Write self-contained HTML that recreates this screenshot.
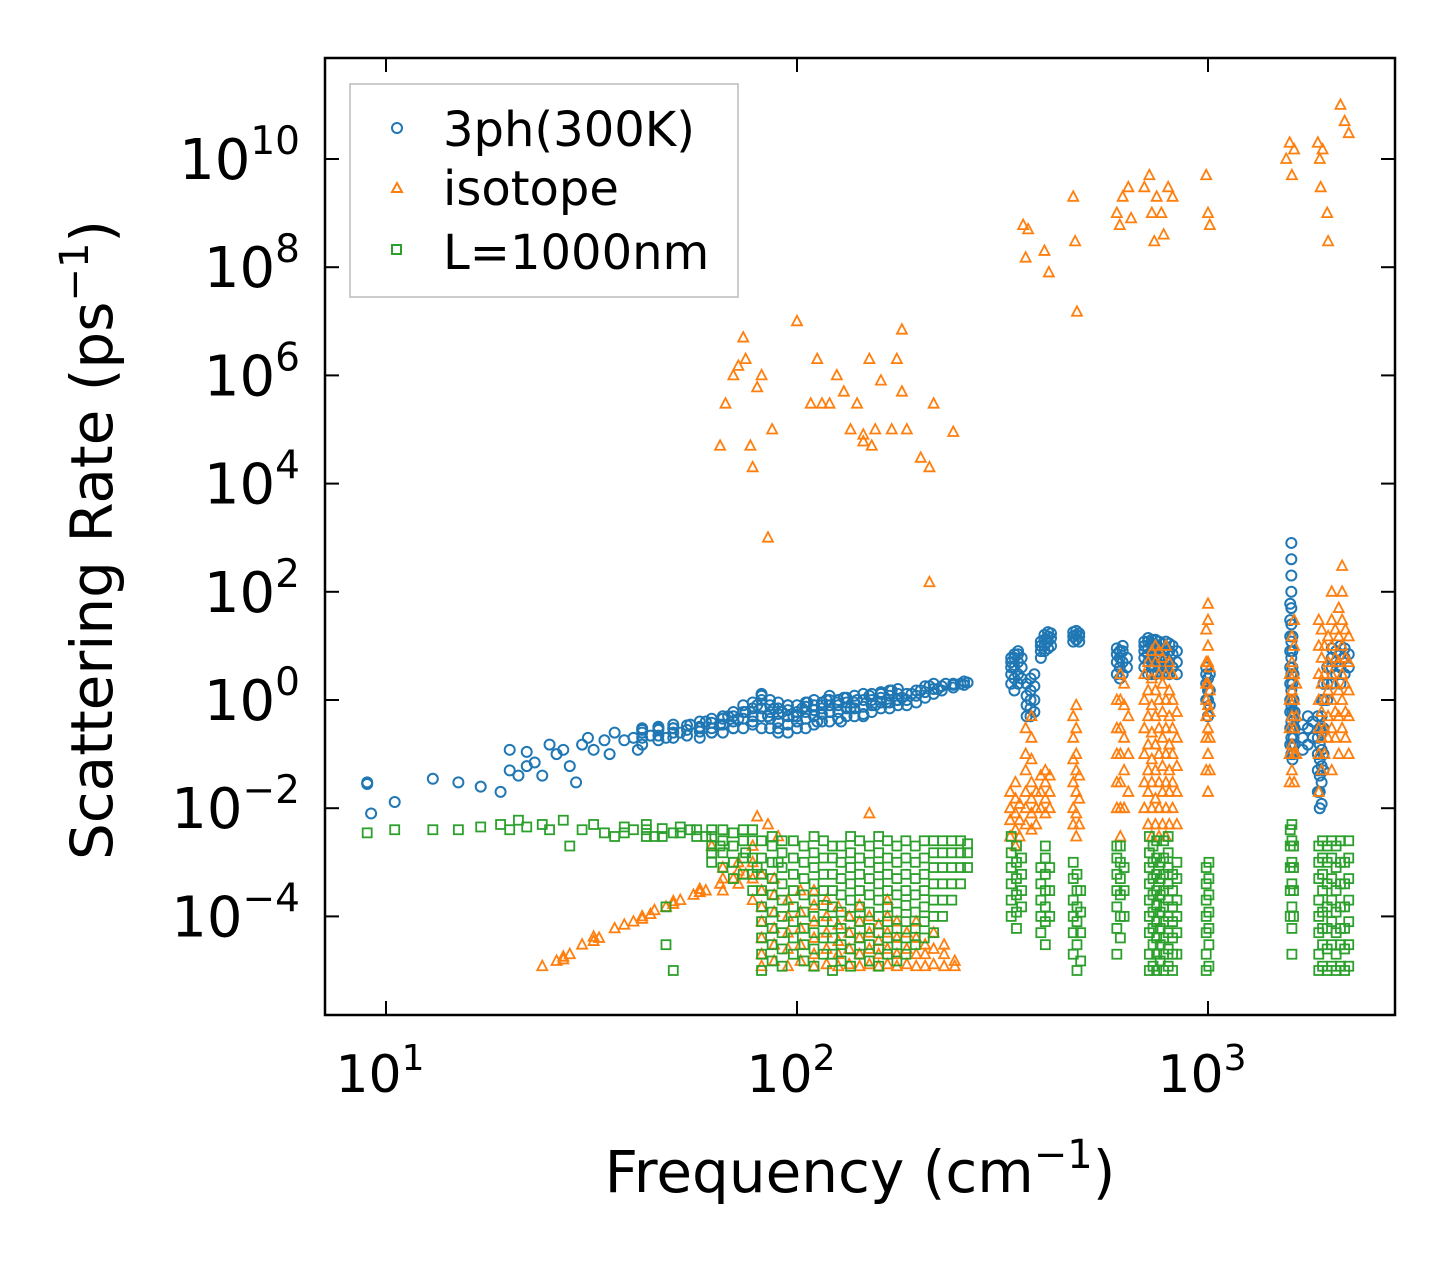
<!DOCTYPE html>
<html><head><meta charset="utf-8"><style>
html,body{margin:0;padding:0;background:#fff}
svg{display:block;font-family:"DejaVu Sans","Liberation Sans",sans-serif}
</style></head><body>
<svg id="chart" width="1455" height="1265" viewBox="0 0 1455 1265" xmlns="http://www.w3.org/2000/svg">
<rect x="0" y="0" width="1455" height="1265" fill="#fff"/>
<g id="marks"></g>
<rect x="325" y="58" width="1070" height="957" fill="none" stroke="#000" stroke-width="2.5"/>
<g id="axes"></g>
<text x="860" y="1192" font-size="58" text-anchor="middle">Frequency (cm<tspan font-size="40" dy="-24">−1</tspan><tspan dy="24">)</tspan></text>
<text transform="translate(112,540) rotate(-90)" font-size="58" text-anchor="middle">Scattering Rate (ps<tspan font-size="40" dy="-24">−1</tspan><tspan dy="24">)</tspan></text>
<g>
<rect x="350" y="84" width="388" height="213" fill="#fff" fill-opacity="0.8" stroke="#bbb" stroke-width="1.5"/>
<circle cx="397" cy="128" r="5" fill="none" stroke="#1f77b4" stroke-width="2"/>
<text x="443" y="146" font-size="48">3ph(300K)</text>
<polygon points="397,183 402,192 392,192" fill="none" stroke="#ff7f0e" stroke-width="2"/>
<text x="443" y="205" font-size="48">isotope</text>
<rect x="392" y="245" width="9" height="9" fill="none" stroke="#2ca02c" stroke-width="2"/>
<text x="443" y="269" font-size="48">L=1000nm</text>
</g>
</svg>
<script>
const xTicks=[10,100,1000];
const xTickExp=["1","2","3"];
const yTickExp=[-4,-2,0,2,4,6,8,10];

const freq3ph=[9,9,9.2,10.5,13,15,17,19,20,20,21,22,22,23,24,25,26,27,28,29,30,31,32,34,35,36,38,40,41,42,44,46,48,50,52,55,58,60,62,65,68,70,72,75,78,80,82,85,88,90,92,95,98,100,103,106,110,112,115,118,120,125,128,130,135,140,145,150,155,160,165,170,175,180,190,200,210,220,230,240,250,260];
const rate3ph=[0.03,0.028,0.008,0.013,0.035,0.03,0.025,0.02,0.12,0.05,0.04,0.06,0.11,0.07,0.04,0.15,0.1,0.12,0.06,0.03,0.15,0.2,0.12,0.18,0.1,0.25,0.18,0.2,0.12,0.28,0.22,0.3,0.2,0.3,0.25,0.35,0.3,0.4,0.25,0.35,0.5,0.3,0.45,0.6,0.4,0.8,1.2,0.5,0.7,0.3,0.6,0.8,0.5,0.4,0.7,0.9,0.5,0.4,0.8,1.0,0.6,0.9,0.4,1.1,0.7,1.0,0.5,1.2,0.8,1.3,0.9,1.5,1.0,1.1,1.3,1.5,1.8,1.6,2.0,1.9,2.0,2.1];
const clusters3ph=[
 [42,[0.15,0.2,0.25,0.3]],[46,[0.18,0.22,0.28,0.32]],[50,[0.2,0.25,0.3,0.35]],[54,[0.22,0.28,0.34]],[58,[0.2,0.26,0.32,0.4]],
 [62,[0.25,0.3,0.38,0.45]],[66,[0.25,0.35,0.45,0.5]],[70,[0.3,0.4,0.5,0.6]],[74,[0.3,0.45,0.6,0.8]],[78,[0.35,0.5,0.7,0.9]],
 [82,[0.3,0.5,0.7,1.0,1.3]],[86,[0.3,0.45,0.6,0.8,1.0]],[90,[0.25,0.4,0.55,0.7,0.9]],[95,[0.25,0.35,0.5,0.65,0.8]],
 [100,[0.3,0.4,0.5,0.6,0.8]],[105,[0.3,0.45,0.6,0.75,0.9]],[110,[0.35,0.5,0.65,0.8,1.0]],[115,[0.4,0.55,0.7,0.9]],
 [120,[0.4,0.6,0.8,1.0,1.2]],[126,[0.45,0.6,0.8,1.0]],[132,[0.5,0.7,0.9,1.1]],[138,[0.5,0.7,0.9,1.2]],[145,[0.55,0.75,1.0,1.3]],
 [152,[0.6,0.8,1.0,1.3]],[160,[0.7,0.9,1.1,1.4]],[168,[0.7,0.9,1.2,1.5]],[176,[0.8,1.0,1.3,1.6]],[185,[0.8,1.0,1.3]],
 [195,[0.9,1.2,1.5]],[205,[1.1,1.4,1.8]],[215,[1.3,1.6,2.0]],[225,[1.5,1.8]],[240,[1.7,2.0]],[255,[1.9,2.2]],
 [332,[2,3,4,5,6]],[338,[1.5,2.5,4,6,7]],[345,[2,3,5,7,8]],[352,[2.5,4,6]],[362,[0.5,0.8,1.2,2]],[370,[0.5,0.7,1,1.5,2.5]],[378,[0.6,1,1.8,3]],
 [392,[6,8,10,12]],[400,[8,10,13,16]],[408,[9,12,15,18]],[415,[10,14,17]],
 [470,[12,15,18]],[478,[13,16,19]],[486,[12,15,17]],
 [600,[3,5,7,9]],[610,[2.5,4,6,8]],[620,[3,5,8,10]],[635,[4,6]],
 [700,[4,6,8,10,12]],[715,[3,5,7,9,12,14]],[730,[3,4,6,8,11,13]],[745,[3,5,7,10,13]],[760,[4,6,9,12]],[775,[3,5,8,11]],
 [790,[4,6,9,12]],[805,[3,5,8,11]],[820,[4,7,10]],[840,[3,5,8]],
 [990,[1,2,3,4]],[1000,[0.5,1,1.5,2.5]],[1010,[0.8,1.5,3]],
 [1585,[0.15,0.3,0.6,1,2,4,8,15,30,60]],[1595,[0.1,0.2,0.4,0.8,1.5,3,6,12,25,50,100,200,400,800]],
 [1605,[0.08,0.15,0.3,0.6,1,2,4,8,15]],[1615,[0.1,0.2,0.5,1,3]],[1625,[0.15,0.3,0.6]],
 [1700,[0.12,0.2,0.35]],[1750,[0.15,0.3,0.5]],[1800,[0.2,0.4]],
 [1850,[0.02,0.05,0.1,0.2,0.5]],[1870,[0.01,0.02,0.04,0.08,0.15,0.3]],[1890,[0.012,0.03,0.06,0.12,0.25,0.5,1]],
 [1910,[0.05,0.1,0.3,1,2]],[1950,[1,2,4]],[2000,[2,4,6,9]],[2050,[3,5,8]],[2100,[2,4,7,10]],[2150,[3,6,9]],[2200,[4,7]]];

const freqIso=[65,67,70,72,74,75,77,78,80,82,85,87,100,108,112,115,125,130,135,140,145,150,155,160,170,175,180,185,200,210,215,210,240,180,152,145,120,
 355,360,365,400,410,470,475,480,600,610,620,640,650,700,720,730,740,750,770,780,800,820,990,1000,1010,1550,1580,1600,1620,1850,1870,1880,1900,1950,1960,2100,2150,2200,
 24,26,28,30,33,36,40,44,48,52,56,60,65,70,75,45,38,62,80,85,90,150];
const rateIso=[5e4,3e5,1e6,1.5e6,5e6,2e6,5e4,2e4,6e5,1e6,1e3,1e5,1e7,3e5,2e6,3e5,1e6,5e5,1e5,3e5,8e4,2e6,1e5,8e5,1e5,2e6,7e6,1e5,3e4,2e4,3e5,150,9e4,5e5,5e4,6e4,3e5,
 6e8,1.5e8,5e8,2e8,8e7,2e9,3e8,1.5e7,1e9,6e8,2e9,3e9,8e8,3e9,5e9,1e9,3e8,2e9,1e9,4e8,3e9,2e9,5e9,1e9,6e8,1e10,2e10,5e9,1.5e10,2e10,1e10,3e9,1.5e10,1e9,3e8,1e11,5e10,3e10,
 1.2e-5,1.5e-5,2e-5,3e-5,4e-5,6e-5,8e-5,1.1e-4,1.5e-4,2e-4,2.5e-4,3e-4,4e-4,5e-4,6e-4,1.3e-4,7e-5,2e-3,7e-3,5e-3,3e-3,8e-3];
const clustersIso=[
 [27,[1.6e-5,1.8e-5]],[32,[3.5e-5,4.2e-5]],[42,[9e-5,1e-4]],[50,[1.7e-4,1.9e-4]],[58,[2.8e-4,3.2e-4]],
 [66,[3e-4,5e-4,8e-4]],[72,[4e-4,7e-4,1e-3]],[78,[2e-4,5e-4,1e-3,2e-3]],
 [82,[1.2e-5,2e-5,4e-5,8e-5,1.5e-4,3e-4,6e-4]],[88,[1.5e-5,3e-5,6e-5,1.2e-4,2.5e-4,5e-4]],[95,[1.2e-5,2.5e-5,5e-5,1e-4,2e-4]],
 [102,[1.5e-5,3e-5,6e-5,1.2e-4,3e-4]],[110,[1.2e-5,2e-5,4e-5,8e-5,1.6e-4,3e-4]],[118,[1.3e-5,2.5e-5,5e-5,1e-4,2e-4]],
 [126,[1.2e-5,2e-5,3.5e-5,7e-5,1.5e-4]],[134,[1.3e-5,2.5e-5,5e-5,1e-4]],[142,[1.2e-5,2e-5,4e-5,8e-5,1.6e-4]],
 [150,[1.3e-5,2.5e-5,5e-5,1e-4]],[158,[1.2e-5,2e-5,3.5e-5,7e-5]],[166,[1.3e-5,2.5e-5,5e-5,1e-4,2e-4]],[175,[1.2e-5,2e-5,4e-5,8e-5]],
 [185,[1.3e-5,2.5e-5,5e-5]],[195,[1.2e-5,2e-5,4e-5,8e-5]],[205,[1.2e-5,2e-5,3e-5]],[215,[1.3e-5,2.5e-5,5e-5]],[228,[1.2e-5,2e-5,3e-5]],[242,[1.2e-5,1.5e-5]],
 [330,[0.003,0.006,0.01,0.02]],[340,[0.002,0.004,0.008,0.015,0.03]],[348,[0.003,0.006,0.012]],
 [360,[0.005,0.01,0.02,0.05,0.1,0.3]],[372,[0.004,0.008,0.015,0.03,0.08,0.2,0.5]],[382,[0.005,0.01,0.02]],
 [392,[0.01,0.02,0.04]],[402,[0.008,0.015,0.03,0.05]],[412,[0.01,0.02,0.04]],
 [470,[0.005,0.01,0.03,0.08,0.2,0.5]],[478,[0.003,0.008,0.02,0.05,0.1,0.3,0.8]],[486,[0.005,0.015,0.04]],
 [600,[0.01,0.03,0.1,0.3,1]],[612,[0.003,0.01,0.03,0.1,0.3,1,3]],[625,[0.01,0.05,0.2,0.8,2]],[640,[0.02,0.1,0.5]],
 [700,[0.01,0.03,0.1,0.3,1,3]],[715,[0.005,0.02,0.05,0.15,0.5,1.5,5]],[730,[0.003,0.01,0.03,0.08,0.25,0.8,2.5,8]],
 [745,[0.005,0.015,0.05,0.15,0.5,1.5,5,10]],[760,[0.003,0.01,0.03,0.1,0.3,1,3,8]],[775,[0.005,0.02,0.06,0.2,0.6,2,6]],
 [790,[0.003,0.01,0.03,0.1,0.3,1,3,10]],[805,[0.005,0.02,0.05,0.15,0.5,1.5,5]],[820,[0.01,0.03,0.1,0.3,1,3]],[840,[0.005,0.02,0.06,0.2,0.6]],
 [990,[0.05,0.2,0.5,1,2,5,20]],[1000,[0.02,0.1,0.3,0.8,2,5,10,30,60]],[1010,[0.05,0.2,0.6,1.5,4]],
 [1580,[0.03,0.1,0.3,1,3]],[1600,[0.05,0.15,0.5,1.5,5,15]],[1620,[0.03,0.1,0.3,1,3,10,30]],[1640,[0.1,0.5,2]],
 [1860,[0.02,0.1,0.3,1,3,10,30]],[1890,[0.05,0.2,0.6,2,6,20]],[1920,[0.1,0.3,1,3,10]],[1960,[0.2,0.5,1.5,5,15]],
 [2000,[0.05,0.3,1,3,10,30,100]],[2040,[0.2,0.6,2,6,20]],[2080,[0.1,0.5,1.5,5,15,50]],[2120,[0.3,1,3,10,30,100,300]],
 [2160,[0.2,0.6,2,6,20]],[2200,[0.1,0.5,1.5,5,15]]];

const freqBd=[9,10.5,13,15,17,19,20,21,22,24,25,27,28,30,32,34,36,40,45,50,55,60,62,65,70,75,80,90,48,48,50];
const rateBd=[0.0035,0.004,0.004,0.004,0.0045,0.005,0.004,0.006,0.0045,0.005,0.004,0.006,0.002,0.004,0.005,0.0035,0.003,0.004,0.003,0.0035,0.004,0.003,0.0015,0.002,0.001,0.0015,0.0008,0.001,0.00015,0.00003,0.00001];
const clustersBd=[
 [38,[0.0035,0.0045]],[43,[0.003,0.004,0.005]],[47,[0.003,0.0042]],[52,[0.0035,0.0045]],[57,[0.003,0.004]],
 [62,[0.001,0.002,0.003,0.004]],[66,[0.0008,0.0015,0.0025,0.004]],[70,[0.0005,0.001,0.002,0.0035]],[74,[0.0006,0.0012,0.0025,0.004]],
 [78,[0.0003,0.0006,0.0012,0.0025,0.004]],[82,[1e-5,2e-5,4e-5,8e-5,1.5e-4,3e-4,6e-4,1.2e-3,2.5e-3]],
 [87,[1.5e-5,3e-5,6e-5,1.2e-4,2.5e-4,5e-4,1e-3,2e-3,3e-3]],[92,[1.2e-5,2.5e-5,5e-5,1e-4,2e-4,4e-4,8e-4,1.5e-3,2.5e-3]],
 [98,[2e-5,4e-5,8e-5,1.5e-4,3e-4,6e-4,1.2e-3,2.5e-3]],[104,[1.5e-5,3e-5,6e-5,1.2e-4,2.5e-4,5e-4,1e-3,2e-3]],
 [110,[1.2e-5,2.5e-5,5e-5,1e-4,2e-4,4e-4,8e-4,1.5e-3,3e-3]],[116,[2e-5,4e-5,8e-5,1.6e-4,3e-4,6e-4,1.2e-3,2.5e-3]],
 [122,[1e-5,2e-5,4e-5,8e-5,1.5e-4,3e-4,6e-4,1.2e-3,2e-3]],[128,[1.5e-5,3e-5,6e-5,1.2e-4,2.5e-4,5e-4,1e-3,2e-3]],
 [135,[1.2e-5,2.5e-5,5e-5,1e-4,2e-4,4e-4,8e-4,1.5e-3,3e-3]],[142,[2e-5,4e-5,8e-5,1.5e-4,3e-4,6e-4,1.2e-3,2.5e-3]],
 [150,[1.5e-5,3e-5,6e-5,1.2e-4,2.5e-4,5e-4,1e-3,2e-3]],[158,[1.2e-5,2.5e-5,5e-5,1e-4,2e-4,4e-4,8e-4,1.5e-3,3e-3]],
 [166,[2e-5,4e-5,8e-5,1.5e-4,3e-4,6e-4,1.2e-3,2.5e-3]],[175,[1.5e-5,3e-5,6e-5,1.2e-4,2.5e-4,5e-4,1e-3,2e-3]],
 [184,[2e-5,4e-5,8e-5,1.6e-4,3e-4,6e-4,1.2e-3,2.5e-3]],[194,[3e-5,6e-5,1.2e-4,2.5e-4,5e-4,1e-3,2e-3]],
 [204,[4e-5,8e-5,1.5e-4,3e-4,6e-4,1.2e-3,2.5e-3]],[215,[5e-5,1e-4,2e-4,4e-4,8e-4,1.5e-3,2.5e-3]],
 [226,[1e-4,2e-4,4e-4,8e-4,1.5e-3,2.5e-3]],[238,[2e-4,4e-4,8e-4,1.5e-3,2.5e-3]],[250,[4e-4,8e-4,1.5e-3,2.5e-3]],[260,[8e-4,1.5e-3,2.2e-3]],
 [332,[1e-4,2e-4,4e-4,8e-4,1.5e-3,3e-3]],[342,[6e-5,1.2e-4,2.5e-4,5e-4,1e-3,2e-3]],[352,[1.5e-4,3e-4,6e-4,1.2e-3]],
 [392,[5e-5,1e-4,2e-4,4e-4,8e-4]],[402,[3e-5,8e-5,1.5e-4,3e-4,6e-4,1.2e-3,2e-3]],[412,[1e-4,3e-4,8e-4]],
 [470,[2e-5,5e-5,1e-4,2e-4,5e-4,1e-3]],[480,[1e-5,3e-5,8e-5,1.5e-4,3e-4,6e-4]],[490,[1.5e-5,5e-5,1.2e-4,3e-4]],
 [600,[2e-5,6e-5,1.5e-4,3e-4,6e-4,1.2e-3,2e-3]],[612,[4e-5,1e-4,2.5e-4,5e-4,1e-3,2e-3]],[625,[1e-4,3e-4,8e-4]],
 [720,[1e-5,2e-5,5e-5,1e-4,2e-4,4e-4,8e-4,1.5e-3,3e-3]],[735,[1.2e-5,3e-5,6e-5,1.2e-4,2.5e-4,5e-4,1e-3,2e-3]],
 [750,[1e-5,2e-5,4e-5,8e-5,1.6e-4,3e-4,6e-4,1.2e-3,2.5e-3]],[765,[1.5e-5,3e-5,6e-5,1.2e-4,2.5e-4,5e-4,1e-3]],
 [780,[1e-5,2e-5,4e-5,8e-5,1.5e-4,3e-4,6e-4,1.2e-3,2.5e-3]],[800,[1.2e-5,2.5e-5,5e-5,1e-4,2e-4,4e-4,8e-4,1.5e-3,3e-3]],
 [820,[1e-5,2e-5,4e-5,8e-5,1.5e-4,3e-4,6e-4]],[840,[2e-5,5e-5,1e-4,2e-4,5e-4,1e-3]],
 [990,[1e-5,2e-5,5e-5,1e-4,2e-4,4e-4,8e-4]],[1005,[1.2e-5,3e-5,6e-5,1.2e-4,2.5e-4,5e-4,1e-3]],
 [1585,[1e-4,3e-4,8e-4,2e-3,4e-3]],[1600,[2e-5,6e-5,1.5e-4,4e-4,1e-3,2.5e-3,5e-3]],[1615,[1e-4,3e-4,8e-4,2e-3]],
 [1860,[1e-5,2e-5,5e-5,1e-4,2e-4,5e-4,1e-3,2e-3]],[1900,[1.2e-5,3e-5,6e-5,1.2e-4,3e-4,6e-4,1.2e-3,2.5e-3]],
 [1950,[1e-5,2.5e-5,6e-5,1.5e-4,4e-4,1e-3,2e-3]],[2000,[1.2e-5,3e-5,8e-5,2e-4,5e-4,1.2e-3,2.5e-3]],
 [2050,[1e-5,2e-5,5e-5,1.2e-4,3e-4,8e-4,2e-3]],[2100,[1.2e-5,3e-5,6e-5,1.5e-4,4e-4,1e-3,2.5e-3]],
 [2150,[1e-5,2.5e-5,6e-5,1.5e-4,4e-4,1e-3]],[2200,[1.2e-5,3e-5,8e-5,2e-4,5e-4,1.2e-3,2.5e-3]]];

const L=325,R=1395,T=58,B=1015;
function xs(f){return 797+411*(Math.log10(f)-2);}
function ys(v){return 700-54.1*Math.log10(v);}
const NS="http://www.w3.org/2000/svg";
const marks=document.getElementById('marks');
const axes=document.getElementById('axes');
function mk(tag,attrs,parent){const e=document.createElementNS(NS,tag);for(const k in attrs)e.setAttribute(k,attrs[k]);parent.appendChild(e);return e;}
function flat(fs,vs,cl){const F=fs.slice(),V=vs.slice();cl.forEach(c=>c[1].forEach(v=>{F.push(c[0]);V.push(v);}));return [F,V];}

function drawCircle(f,v){
 const c=mk('circle',{cx:xs(f),cy:ys(v),r:5,fill:'none',stroke:'#1f77b4','stroke-width':2},marks);
 
 
}
function drawTri(f,v){
 const x=xs(f),y=ys(v);
 const p=mk('polygon',{points:`${x},${y-5.5} ${x+5},${y+4} ${x-5},${y+4}`,fill:'none',stroke:'#ff7f0e','stroke-width':1.8},marks);
 
 
}
function drawSq(f,v){
 const x=xs(f),y=ys(v);
 const s=mk('rect',{x:x-4.5,y:y-4.5,width:9,height:9,fill:'none',stroke:'#2ca02c','stroke-width':1.8},marks);
 
 
}
const [fB,vB]=flat(freq3ph,rate3ph,clusters3ph);
const [fI,vI]=flat(freqIso,rateIso,clustersIso);
const [fG,vG]=flat(freqBd,rateBd,clustersBd);
for(let i=0;i<fB.length;i++)drawCircle(fB[i],vB[i]);
for(let i=0;i<fI.length;i++)drawTri(fI[i],vI[i]);
for(let i=0;i<fG.length;i++)drawSq(fG[i],vG[i]);

xTicks.forEach((f,i)=>{
 const x=xs(f);
 mk('line',{x1:x,x2:x,y1:B,y2:B-14,stroke:'#000','stroke-width':2},axes);
 mk('line',{x1:x,x2:x,y1:T,y2:T+14,stroke:'#000','stroke-width':2},axes);
 const t=mk('text',{x:x-6,y:1092,'font-size':52,'text-anchor':'middle'},axes);
 
 
 t.innerHTML=`10<tspan font-size="36" dy="-22">${xTickExp[i]}</tspan>`;
});
yTickExp.forEach(e=>{
 const y=ys(Math.pow(10,e));
 mk('line',{x1:L,x2:L+14,y1:y,y2:y,stroke:'#000','stroke-width':2},axes);
 mk('line',{x1:R,x2:R-14,y1:y,y2:y,stroke:'#000','stroke-width':2},axes);
 const lab=e<0?'−'+(-e):String(e);
 const t=mk('text',{x:300,y:y+20,'font-size':56,'text-anchor':'end'},axes);
 
 
 t.innerHTML=`10<tspan font-size="39" dy="-25">${lab}</tspan>`;
});
</script>
</body></html>
